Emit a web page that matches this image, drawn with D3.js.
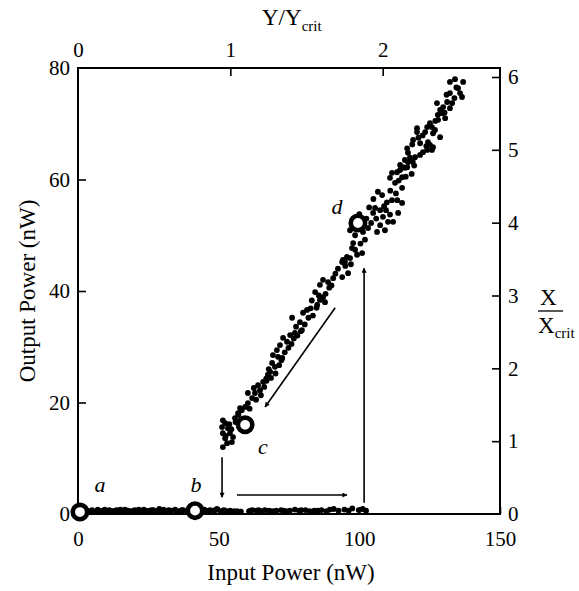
<!doctype html>
<html>
<head>
<style>
  body { margin: 0; background: #fff; }
  text { font-family: "Liberation Serif", "DejaVu Serif", serif; fill: #000; }
</style>
<script src="https://d3js.org/d3.v7.min.js"></script>
</head>
<body>
<svg width="579" height="591"></svg>
<script>
// upper (bistable "on") branch: input nW / output nW
var upperIn = [51.2, 51.5, 52.3, 53.3, 51.5, 54.0, 55.1, 52.3, 54.7, 53.0, 51.5,
  55.8, 56.9, 57.6, 59.4, 60.4, 61.9, 60.4, 62.9, 64.7, 64.0, 65.8,
  66.9, 67.5, 68.3, 70.0, 69.0, 71.1, 69.3, 70.7, 71.8, 74.3, 72.9, 75.4, 77.1, 79.6, 78.9, 76.1,
  80.0, 81.4, 85.0, 87.8, 86.0, 87.1, 84.3, 86.0, 87.1, 88.9, 90.7, 93.9, 96.0, 94.9,
  93.9, 94.2, 96.7, 95.6, 101.0, 98.5, 97.4, 97.8, 103.1, 101.3, 98.5, 96.7,
  106.3, 109.1, 107.4, 112.0, 110.2, 113.8, 110.9, 108.4, 104.9, 107.4, 105.6, 115.2, 111.6,
  109.8, 108.1, 106.6, 115.2, 112.7, 110.9, 111.6, 113.4, 116.2, 114.5, 117.3,
  114.5, 115.2, 117.0, 115.5, 118.0, 116.2, 117.3, 117.0, 119.8, 121.6, 125.8, 122.6,
  124.1, 126.2, 125.1, 121.6, 119.1, 124.4, 128.7, 126.2, 120.5, 120.5, 123.4, 126.9,
  125.8, 124.1, 125.1, 128.0, 129.4, 127.6, 128.7, 129.8, 132.2, 133.0, 131.2, 132.2,
  136.5, 135.8, 135.1, 136.9, 134.0, 132.2,
  58.2, 61.0, 63.3, 62.5, 65.0, 66.2, 67.0, 68.6, 67.8, 70.2, 71.5, 72.3, 73.5, 72.6,
  74.8, 75.9, 76.7, 78.0, 77.5, 79.2, 80.6, 81.9, 82.7, 83.5, 84.8, 83.1, 85.6, 88.0,
  89.3, 90.1, 91.5, 92.4, 95.0, 97.0, 99.2, 100.4, 102.0, 100.0, 102.5, 104.2, 103.5,
  105.0, 108.8, 111.0, 113.0, 114.0, 116.5, 118.6, 119.5, 118.8, 121.0, 122.5, 123.8,
  127.0, 127.9, 130.5, 131.0, 133.8, 134.5, 130.3, 119.0, 113.5, 106.0, 109.5,
  52.5, 53.8, 54.5, 56.0, 57.0];
var upperOut = [15.6, 14.5, 13.6, 15.4, 12.0, 14.5, 13.8, 16.3, 12.9, 12.7, 16.8,
  17.2, 18.1, 19.0, 19.2, 19.9, 20.8, 21.7, 21.7, 22.2, 23.1, 23.7,
  24.3, 25.0, 25.5, 26.4, 27.1, 28.2, 28.5, 29.4, 30.3, 30.9, 31.6, 32.1, 32.5, 33.0, 34.4, 35.2,
  36.1, 36.6, 37.5, 38.0, 38.4, 38.9, 39.8, 41.1, 42.0, 41.6, 42.3, 42.5, 43.2, 45.2,
  45.2, 45.6, 45.9, 46.1, 46.8, 47.4, 47.7, 48.6, 51.3, 50.6, 50.0, 50.9,
  50.6, 50.9, 51.8, 52.4, 52.4, 54.0, 53.7, 53.3, 54.0, 54.5, 54.9, 55.8, 56.3,
  55.9, 57.2, 57.8, 58.5, 59.4, 60.3, 61.2, 61.3, 62.1, 62.6, 63.1,
  61.7, 60.4, 62.2, 62.2, 63.9, 63.5, 64.8, 65.6, 64.0, 64.4, 65.3, 64.9,
  65.3, 65.8, 66.2, 66.5, 67.1, 66.7, 67.6, 68.3, 68.5, 69.2, 68.5, 68.9,
  69.4, 69.4, 70.1, 70.7, 71.9, 73.7, 72.5, 73.0, 72.8, 73.7, 73.9, 75.5,
  74.8, 75.5, 76.4, 77.5, 78.0, 77.5,
  18.6, 18.9, 20.5, 22.6, 21.3, 22.8, 23.9, 24.4, 26.0, 25.2, 26.7, 27.6, 29.0, 28.0,
  29.8, 30.5, 31.5, 32.0, 33.6, 32.8, 34.0, 35.2, 36.9, 35.6, 37.0, 38.3, 39.2, 39.5,
  40.6, 41.0, 43.1, 44.0, 44.5, 44.8, 46.5, 48.5, 49.2, 53.8, 53.0, 52.2, 55.0,
  56.5, 55.2, 58.0, 57.5, 59.8, 60.5, 61.0, 62.5, 66.3, 67.5, 67.9, 66.0,
  70.5, 71.6, 71.0, 75.2, 74.6, 76.5, 72.0, 63.2, 56.3, 53.0, 54.5,
  14.0, 16.1, 15.2, 16.5, 17.8];

// lower ("off") branch
var lowerIn = [1.2, 2.0, 3.1, 4.3, 5.0, 6.2, 7.4, 8.1, 9.5, 10.3, 11.6, 12.4, 13.8, 14.5,
  15.9, 16.7, 17.8, 19.0, 20.2, 21.1, 22.5, 23.4, 24.6, 25.3, 26.8, 27.5, 28.9, 29.8,
  31.0, 32.2, 33.1, 34.5, 35.3, 36.6, 37.4, 38.8, 39.5, 43.6, 44.9, 45.7, 47.0, 48.3,
  49.4, 50.6, 51.8, 53.0, 54.1, 55.5, 57.9, 60.8, 62.0, 63.5, 65.1, 66.4, 67.8, 69.3,
  70.5, 72.2, 74.0, 75.3, 77.1, 78.6, 80.9, 82.4, 85.2, 86.5, 88.3, 90.9, 92.6, 94.7,
  97.5, 99.8, 101.2, 102.4,
  2.6, 4.9, 7.0, 9.0, 11.1, 13.2, 15.1, 17.3, 19.5, 21.6, 23.9, 26.1, 28.3, 30.4,
  32.7, 34.9, 36.9, 44.2, 46.4, 48.8, 52.4, 56.6, 61.4, 64.2, 68.5, 73.1, 79.4, 84.0,
  89.5, 96.2];
var lowerOut = [0.5, 0.4, 0.6, 0.5, 0.7, 0.4, 0.6, 0.5, 0.8, 0.5, 0.6, 0.4, 0.7, 0.6,
  0.5, 0.8, 0.6, 0.5, 0.7, 0.5, 0.6, 0.8, 0.5, 0.6, 0.7, 0.5, 0.9, 0.6,
  0.5, 0.7, 0.6, 0.8, 0.5, 0.6, 0.7, 0.5, 0.6, 0.6, 0.8, 0.5, 0.7, 0.6,
  0.9, 0.5, 0.7, 0.4, 0.6, 0.5, 0.4, 0.5, 0.7, 0.6, 0.5, 0.7, 0.6, 0.5,
  0.6, 0.7, 0.5, 0.6, 0.8, 0.6, 0.7, 0.5, 0.6, 0.7, 0.5, 0.9, 0.6, 0.8,
  1.0, 0.7, 0.9, 0.6,
  0.7, 0.5, 0.8, 0.6, 0.7, 0.6, 0.8, 0.6, 0.5, 0.8, 0.6, 0.7, 0.5, 0.8,
  0.6, 0.5, 0.7, 0.5, 0.6, 0.7, 0.6, 0.5, 0.6, 0.7, 0.5, 0.6, 0.7, 0.6,
  0.8, 0.6];

// labelled states a-d
var stateNames = ["a", "b", "c", "d"];
var stateIn = [0.7, 41.6, 59.4, 99.5];
var stateOut = [0.35, 0.6, 16.0, 52.2];

// hysteresis arrows: [x1, y1, x2, y2] in nW
var arrows = [[91.4, 37.0, 66.5, 19.2], [51.2, 10.2, 51.2, 3.0],
  [56.5, 3.4, 95.6, 3.4], [101.7, 2.0, 101.7, 44.1]];

var xTicks = [0, 50, 100, 150];
var yTicks = [0, 20, 40, 60, 80];
var topTicks = [0, 1, 2];
var rightTicks = [0, 1, 2, 3, 4, 5, 6];

var svg = d3.select("svg");
var x = d3.scaleLinear().domain([0, 150]).range([78, 500]);
var y = d3.scaleLinear().domain([0, 80]).range([514, 68]);
var xTop = d3.scaleLinear().domain([0, 2.77]).range([78, 500]);
var yRight = d3.scaleLinear().domain([0, 6]).range([514, 77]);
var fmt = d3.format("d");

// frame
svg.append("rect")
  .attr("x", 78).attr("y", 68).attr("width", 422).attr("height", 446)
  .attr("fill", "none").attr("stroke", "#000").attr("stroke-width", 2);

function styleAxis(g, size) {
  g.select(".domain").remove();
  g.selectAll("line").attr("stroke", "#000").attr("stroke-width", 1.6);
  g.selectAll("text").style("font-size", size + "px")
    .style("font-family", "'Liberation Serif', serif").attr("fill", "#000");
}

svg.append("g").attr("transform", "translate(0,514)")
  .call(d3.axisTop(x).tickValues(xTicks).tickSize(7).tickFormat(""))
  .call(styleAxis, 21);
svg.append("g").attr("transform", "translate(0,514)")
  .call(d3.axisBottom(x).tickValues(xTicks).tickSize(0).tickPadding(17).tickFormat(fmt))
  .call(styleAxis, 21);

svg.append("g").attr("transform", "translate(78,0)")
  .call(d3.axisRight(y).tickValues(yTicks.slice(1, 4)).tickSize(8).tickFormat(""))
  .call(styleAxis, 21);
svg.append("g").attr("transform", "translate(78,0)")
  .call(d3.axisLeft(y).tickValues(yTicks).tickSize(0).tickPadding(8).tickFormat(fmt))
  .call(styleAxis, 21);

svg.append("g").attr("transform", "translate(0,68)")
  .call(d3.axisBottom(xTop).tickValues([1, 2]).tickSize(8).tickFormat(""))
  .call(styleAxis, 21);
svg.append("g").attr("transform", "translate(0,68)")
  .call(d3.axisTop(xTop).tickValues(topTicks).tickSize(0).tickPadding(11).tickFormat(fmt))
  .call(styleAxis, 21);

svg.append("g").attr("transform", "translate(500,0)")
  .call(d3.axisLeft(yRight).tickValues(rightTicks.slice(1)).tickSize(8).tickFormat(""))
  .call(styleAxis, 21);
svg.append("g").attr("transform", "translate(500,0)")
  .call(d3.axisRight(yRight).tickValues(rightTicks).tickSize(0).tickPadding(8).tickFormat(fmt))
  .call(styleAxis, 21);

// axis titles
svg.append("text").attr("x", 291).attr("y", 580).attr("text-anchor", "middle")
  .style("font-size", "23px").text("Input Power (nW)");
svg.append("text").attr("transform", "translate(35,291) rotate(-90)")
  .attr("text-anchor", "middle").style("font-size", "23px").text("Output Power (nW)");

var topTitle = svg.append("text").attr("x", 262).attr("y", 25).style("font-size", "23px");
topTitle.append("tspan").text("Y/Y");
topTitle.append("tspan").attr("dy", 6).style("font-size", "15px").text("crit");

svg.append("text").attr("x", 540).attr("y", 305).style("font-size", "23px").text("X");
svg.append("line").attr("x1", 538).attr("x2", 563).attr("y1", 311).attr("y2", 311)
  .attr("stroke", "#000").attr("stroke-width", 1.3);
var xc = svg.append("text").attr("x", 538).attr("y", 333).style("font-size", "23px");
xc.append("tspan").text("X");
xc.append("tspan").attr("dy", 5).style("font-size", "15px").text("crit");

// arrows
svg.append("defs").append("marker").attr("id", "head")
  .attr("viewBox", "0 0 10 10").attr("refX", 9).attr("refY", 5)
  .attr("markerWidth", 10).attr("markerHeight", 5).attr("markerUnits", "userSpaceOnUse")
  .attr("orient", "auto")
  .append("path").attr("d", "M0,0 L10,5 L0,10 Z").attr("fill", "#000");

svg.selectAll(".arrow").data(arrows).enter().append("line")
  .attr("class", "arrow")
  .attr("x1", function(d) { return x(d[0]); })
  .attr("y1", function(d) { return y(d[1]); })
  .attr("x2", function(d) { return x(d[2]); })
  .attr("y2", function(d) { return y(d[3]); })
  .attr("stroke", "#000").attr("stroke-width", 1.6)
  .attr("marker-end", "url(#head)");

// data dots
var pts = upperIn.map(function(v, i) { return [v, upperOut[i]]; })
  .concat(lowerIn.map(function(v, i) { return [v, lowerOut[i]]; }));
svg.selectAll(".dot").data(pts).enter().append("circle")
  .attr("class", "dot")
  .attr("cx", function(d) { return x(d[0]); })
  .attr("cy", function(d) { return y(d[1]); })
  .attr("r", 2.9).attr("fill", "#000");

// open state markers
svg.selectAll(".state").data(stateIn).enter().append("circle")
  .attr("class", "state")
  .attr("cx", function(d) { return x(d); })
  .attr("cy", function(d, i) { return y(stateOut[i]); })
  .attr("r", 7.2).attr("fill", "#fff").attr("stroke", "#000").attr("stroke-width", 4.6);

var labelPos = [[100, 492], [196, 492], [263, 454], [337, 214]];
svg.selectAll(".lab").data(stateNames).enter().append("text")
  .attr("class", "lab")
  .attr("x", function(d, i) { return labelPos[i][0]; })
  .attr("y", function(d, i) { return labelPos[i][1]; })
  .attr("text-anchor", "middle")
  .style("font-size", "22px").style("font-style", "italic")
  .text(function(d) { return d; });
</script>
</body>
</html>
